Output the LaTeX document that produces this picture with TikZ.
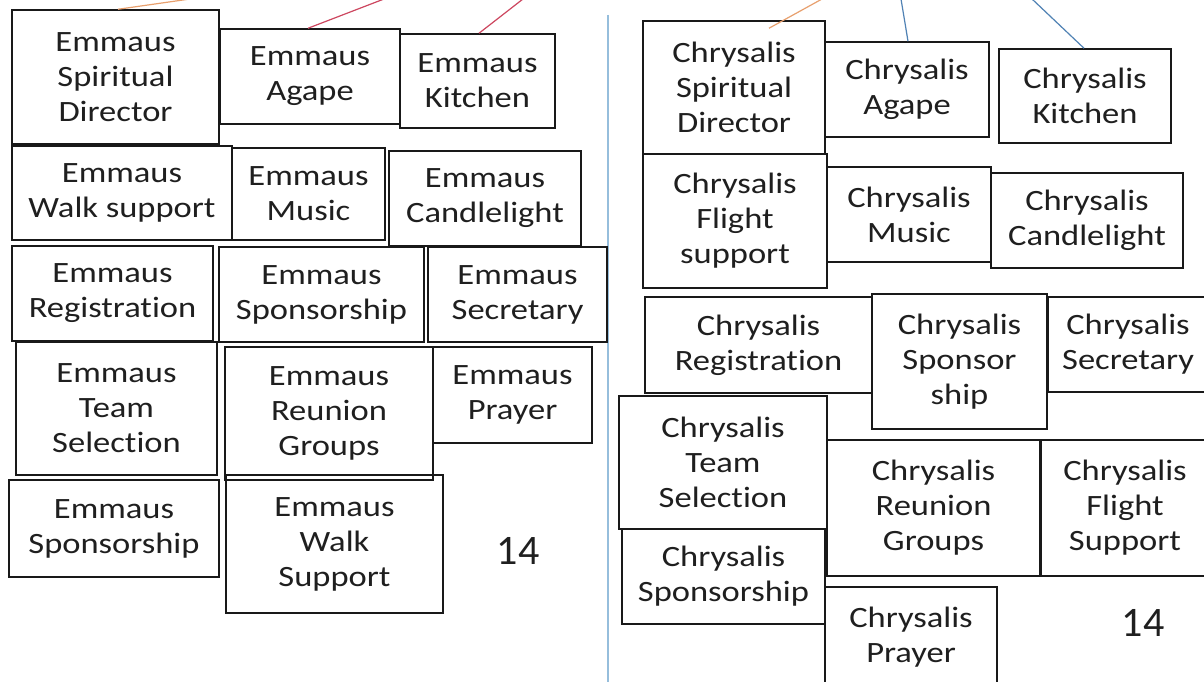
\documentclass[tikz,border=0pt]{standalone}
\usepackage{fontspec}
\setmainfont[FakeStretch=1.17,Ligatures=NoCommon]{Carlito}
\newfontfamily\numfont{Carlito}
\definecolor{linkorange}{RGB}{232,160,110}
\definecolor{linkred}{RGB}{205,70,95}
\definecolor{linkblue}{RGB}{80,130,180}
\definecolor{divider}{RGB}{150,190,220}
\definecolor{boxline}{RGB}{25,25,25}
\tikzset{
  bx/.style={draw=boxline, line width=1.5pt, inner sep=0pt, align=center,
    font=\fontsize{29.5}{35}\selectfont, text=black!88},
  numlabel/.style={inner sep=0pt, font=\numfont\fontsize{42}{44}\selectfont, text=black!88},
  orangelink/.style={draw=linkorange, line width=1.2pt},
  redlink/.style={draw=linkred, line width=1.2pt},
  bluelink/.style={draw=linkblue, line width=1.2pt},
  divline/.style={draw=divider, line width=2pt}
}
\begin{document}
\begin{tikzpicture}[x=1pt,y=-1pt]
\useasboundingbox (0,0) rectangle (1204,682);
\clip (0,0) rectangle (1204,682);
\fill[white] (0,0) rectangle (1204,682);

% divider
\coordinate (dtop) at (608,15);
\coordinate (dbot) at (608,690);
\draw[divline] (dtop) -- (dbot);

% ---------- Emmaus ----------
\node[bx, minimum width=207pt, minimum height=134pt] (ed) at (115.5,77) {Emmaus\\Spiritual\\Director};
\node[bx, minimum width=180pt, minimum height=95pt] (ea) at (310,76.5) {Emmaus\\Agape};
\node[bx, minimum width=155pt, minimum height=94pt] (ek) at (477.5,81) {Emmaus\\Kitchen};
\node[bx, minimum width=220pt, minimum height=94pt] (ews) at (122,193) {Emmaus\\Walk support};
\node[bx, minimum width=153pt, minimum height=92pt] (em) at (308.5,194) {Emmaus\\Music};
\node[bx, minimum width=192pt, minimum height=95pt] (ec) at (485,198.5) {Emmaus\\Candlelight};
\node[bx, minimum width=201pt, minimum height=95pt] (er) at (112.5,293.5) {Emmaus\\Registration};
\node[bx, minimum width=205pt, minimum height=95pt] (esp) at (321.5,294.5) {Emmaus\\Sponsorship};
\node[bx, minimum width=179pt, minimum height=95pt] (esec) at (517.5,294.5) {Emmaus\\Secretary};
\node[bx, minimum width=201pt, minimum height=133pt] (ets) at (116.5,408.5) {Emmaus\\Team\\Selection};
\node[bx, minimum width=208pt, minimum height=133pt] (erg) at (329,413.5) {Emmaus\\Reunion\\Groups};
\node[bx, minimum width=159pt, minimum height=96pt] (ep) at (512.5,395) {Emmaus\\Prayer};
\node[bx, minimum width=210pt, minimum height=97pt] (esp2) at (114,528.5) {Emmaus\\Sponsorship};
\node[bx, minimum width=217pt, minimum height=138pt] (ewS) at (334.5,544) {Emmaus\\Walk\\Support};
\node[numlabel] (en) at (518,551) {14};

% ---------- Chrysalis ----------
\node[bx, minimum width=182pt, minimum height=133pt] (cd) at (734,87.5) {Chrysalis\\Spiritual\\Director};
\node[bx, minimum width=164pt, minimum height=95pt] (ca) at (907,89.5) {Chrysalis\\Agape};
\node[bx, minimum width=172pt, minimum height=94pt] (ck) at (1085,96) {Chrysalis\\Kitchen};
\node[bx, minimum width=184pt, minimum height=134pt] (cf) at (735,221) {Chrysalis\\Flight\\support};
\node[bx, minimum width=164pt, minimum height=95pt] (cm) at (909,214.5) {Chrysalis\\Music};
\node[bx, minimum width=192pt, minimum height=95pt] (cc) at (1087,220.5) {Chrysalis\\Candlelight};
\node[bx, minimum width=227pt, minimum height=96pt] (cr) at (758.5,345) {Chrysalis\\Registration};
\node[bx, minimum width=175pt, minimum height=135pt] (csp) at (959.5,361.5) {Chrysalis\\Sponsor\\ship};
\node[bx, minimum width=160pt, minimum height=95pt] (csec) at (1128,344.5) {Chrysalis\\Secretary};
\node[bx, minimum width=208pt, minimum height=133pt] (cts) at (723,462.5) {Chrysalis\\Team\\Selection};
\node[bx, minimum width=213pt, minimum height=136pt] (crg) at (933.5,508) {Chrysalis\\Reunion\\Groups};
\node[bx, minimum width=168pt, minimum height=136pt] (cfs) at (1125,508) {Chrysalis\\Flight\\Support};
\node[bx, minimum width=203pt, minimum height=95pt] (csp2) at (723.5,576.5) {Chrysalis\\Sponsorship};
\node[bx, minimum width=172pt, minimum height=100pt] (cp) at (911,637) {Chrysalis\\Prayer};
\node[numlabel] (cn) at (1143,623) {14};

% ---------- links to the top ----------
\coordinate (t1) at (190,-1);
\coordinate (t2) at (384,-1);
\coordinate (t3) at (523,-1);
\coordinate (t4) at (822,-1);
\coordinate (t5) at (901,-1);
\coordinate (t6) at (1032,-1);
\draw[orangelink] ([xshift=2.5pt]ed.north) -- (t1);
\draw[redlink] ([xshift=-2pt]ea.north) -- (t2);
\draw[redlink] ([xshift=1.5pt]ek.north) -- (t3);
\draw[orangelink] ([xshift=35pt,yshift=-8pt]cd.north) -- (t4);
\draw[bluelink] ([xshift=1pt]ca.north) -- (t5);
\draw[bluelink] ([xshift=-1pt]ck.north) -- (t6);
\end{tikzpicture}
\end{document}
